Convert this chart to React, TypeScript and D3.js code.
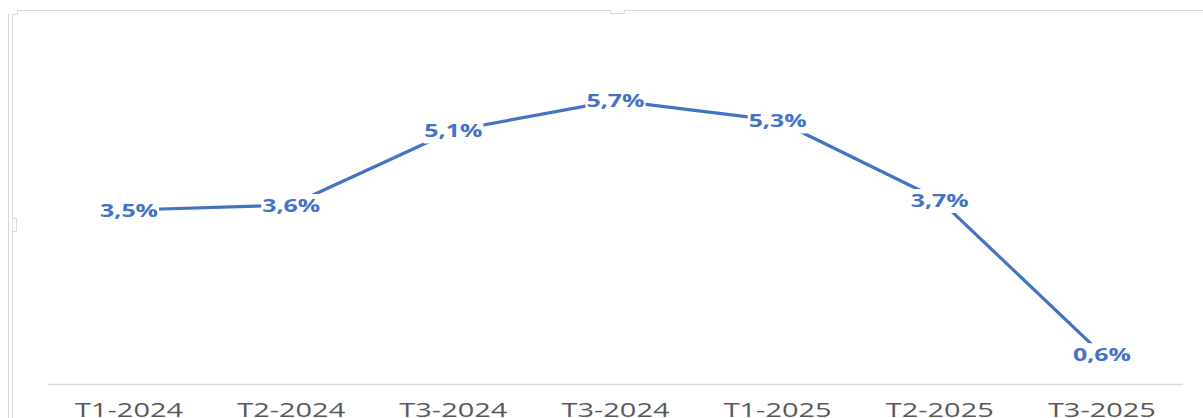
import React from 'react';
import * as d3 from 'd3';

const categories = ['T1-2024', 'T2-2024', 'T3-2024', 'T3-2024', 'T1-2025', 'T2-2025', 'T3-2025'];
const values = [3.5, 3.6, 5.1, 5.7, 5.3, 3.7, 0.6];
const valueLabels = ['3,5%', '3,6%', '5,1%', '5,7%', '5,3%', '3,7%', '0,6%'];

const W = 1203;
const H = 418;
const BLUE = '#4472C4';

const App: React.FC = () => {
  const plot = { left: 48, right: 1183, top: 36, bottom: 384 };

  const x = d3.scaleBand<number>()
    .domain(categories.map((_, i) => i))
    .range([plot.left, plot.right]);

  const y = d3.scaleLinear()
    .domain([0, 7])
    .range([plot.bottom, plot.top]);

  const cx = (i: number) => x(i)! + x.bandwidth() / 2;

  const line = d3.line<number>()
    .x((_, i) => cx(i))
    .y(d => y(d));

  // chart frame (light grey border with small resize handles)
  const frame = 'M8.5,418 V14 M12.5,418 V14.5 H17.5 V10.5 H610.5 V13.5 H624.5 V10.5 H1203';
  const handle = 'M12.5,218.5 H16.5 V231.5 H12.5';

  return (
    <svg width={W} height={H} style={{ position: 'absolute', left: 0, top: 0, background: '#fff' }}>
      <path d={frame} fill="none" stroke="#d9d9d9" strokeWidth={1} />
      <path d={handle} fill="#fff" stroke="#d9d9d9" strokeWidth={1} />

      {/* category axis */}
      <line x1={plot.left} x2={plot.right} y1={plot.bottom + 0.5} y2={plot.bottom + 0.5} stroke="#d9d9d9" strokeWidth={1.5} />
      {categories.map((c, i) => (
        <text key={'x' + i} x={cx(i)} y={417} textAnchor="middle"
          fontFamily="'Open Sans', sans-serif" fontSize={20} fill="#595959"
          textLength={108} lengthAdjust="spacingAndGlyphs">{c}</text>
      ))}

      {/* series */}
      <path d={line(values) || ''} fill="none" stroke={BLUE} strokeWidth={3.2} strokeLinejoin="round" />

      {/* data labels */}
      {values.map((v, i) => (
        <g key={'l' + i}>
          <rect x={cx(i) - 30} y={y(v) - 11} width={60} height={24} fill="#fff" />
          <text x={cx(i)} y={y(v) + 6.5} textAnchor="middle"
            fontFamily="'Open Sans', sans-serif" fontWeight="bold" fontSize={17} fill={BLUE}
            textLength={58} lengthAdjust="spacingAndGlyphs">{valueLabels[i]}</text>
        </g>
      ))}
    </svg>
  );
};

export default App;
